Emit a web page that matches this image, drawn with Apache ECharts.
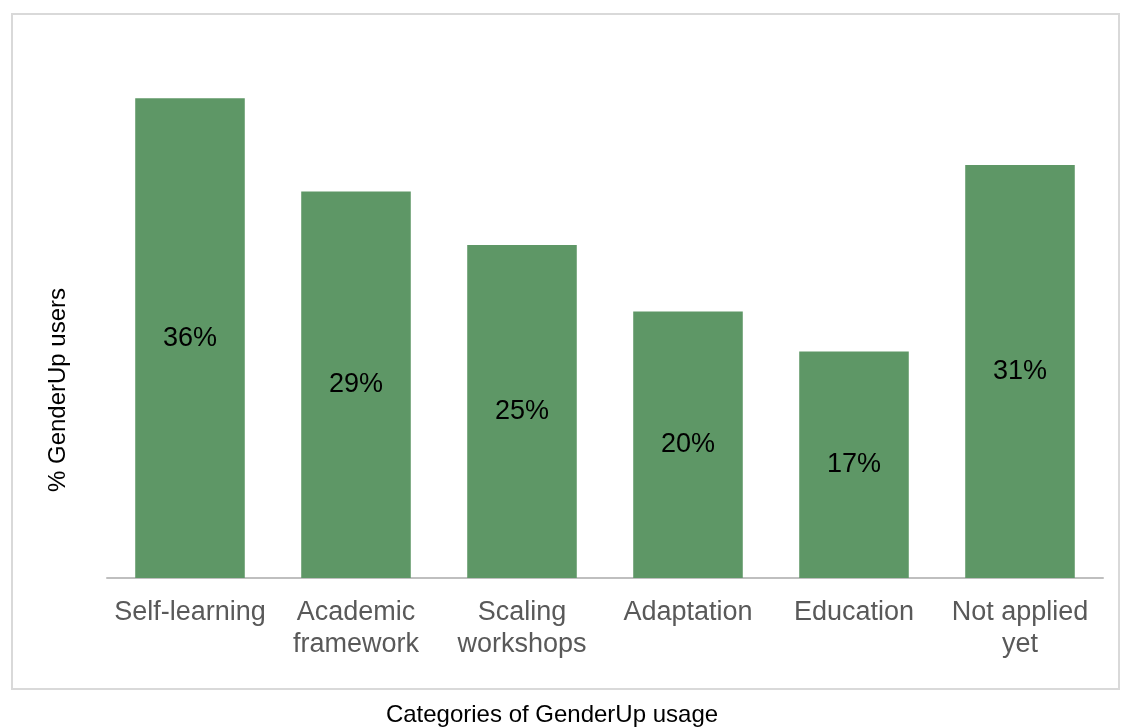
<!DOCTYPE html>
<html>
<head>
<meta charset="utf-8">
<script src="https://cdn.jsdelivr.net/npm/echarts@6/dist/echarts.min.js"></script>
<style>html,body{margin:0;padding:0;background:#fff}#c{width:1121px;height:727px}</style>
</head>
<body>
<div id="c"></div>
<script>
const categories = ['Self-learning', 'Academic\nframework', 'Scaling\nworkshops', 'Adaptation', 'Education', 'Not applied\nyet'];
const values = [36, 29, 25, 20, 17, 31];
const yAxisTitle = '% GenderUp users';
const xAxisTitle = 'Categories of GenderUp usage';

const chart = echarts.init(document.getElementById('c'), null, {renderer: 'canvas'});
chart.setOption({
  animation: false,
  textStyle: {fontFamily: 'Liberation Sans, Arial, sans-serif'},
  grid: {left: 107, right: 18, top: 45, bottom: 149, containLabel: false},
  xAxis: {
    type: 'category',
    data: categories,
    axisLine: {show: true, lineStyle: {color: '#bfbfbf', width: 2}},
    axisTick: {show: false},
    axisLabel: {color: '#595959', fontSize: 27, lineHeight: 32, margin: 19, interval: 0, fontFamily: 'Liberation Sans, Arial, sans-serif'}
  },
  yAxis: {
    type: 'value', min: 0, max: 40,
    show: false
  },
  series: [{
    type: 'bar',
    data: values,
    barCategoryGap: '34%',
    itemStyle: {color: '#5e9766'},
    label: {
      show: true, position: 'inside',
      formatter: p => p.value + '%',
      color: '#000', fontSize: 27, fontFamily: 'Liberation Sans, Arial, sans-serif'
    }
  }],
  graphic: [
    {type: 'rect', shape: {x: 12, y: 14, width: 1107, height: 675}, style: {fill: 'none', stroke: '#d9d9d9', lineWidth: 2}, z: -1},
    {type: 'text', x: 58, y: 390, rotation: Math.PI / 2,
      style: {text: yAxisTitle, fill: '#000', font: '24px "Liberation Sans", Arial, sans-serif', textAlign: 'center', textVerticalAlign: 'middle'}},
    {type: 'text', x: 552, y: 715,
      style: {text: xAxisTitle, fill: '#000', font: '24px "Liberation Sans", Arial, sans-serif', textAlign: 'center', textVerticalAlign: 'middle'}}
  ]
});
</script>
</body>
</html>
